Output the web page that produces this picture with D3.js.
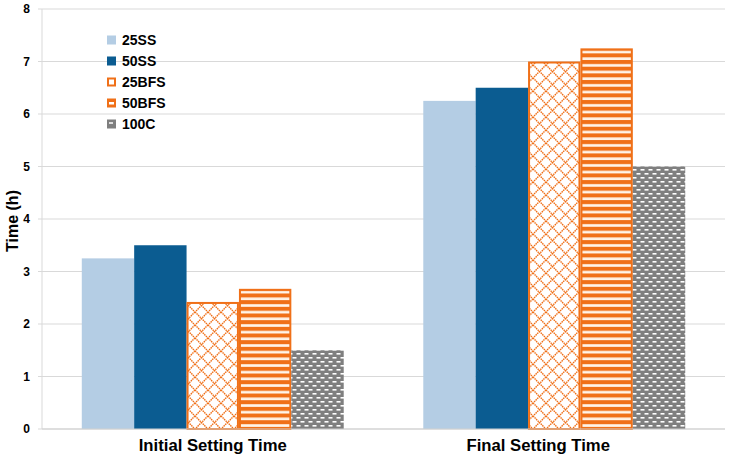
<!DOCTYPE html>
<html><head><meta charset="utf-8">
<script src="https://cdn.jsdelivr.net/npm/d3@7"></script>
<style>body{margin:0;background:#fff;}svg{display:block;font-family:"Liberation Sans",Arial,sans-serif;}</style>
</head><body><svg id="c" width="734" height="458"></svg>
<script>
const categories = ["Initial Setting Time", "Final Setting Time"];
const seriesNames = ["25SS", "50SS", "25BFS", "50BFS", "100C"];
const v25SS = [3.25, 6.25];
const v50SS = [3.5, 6.5];
const v25BFS = [2.42, 7.0];
const v50BFS = [2.67, 7.25];
const v100C = [1.5, 5.0];
const yTicks = [0, 1, 2, 3, 4, 5, 6, 7, 8];
const seriesValues = [v25SS, v50SS, v25BFS, v50BFS, v100C];

const svg = d3.select("#c");
const m = {l: 42, r: 9, t: 9, b: 29};
const W = 734, H = 458;
const orange = "#f07018", blue = "#0b5c91", lblue = "#b4cde4", gray = "#7f7f7f";

const defs = svg.append("defs");
// crosshatch
const p1 = defs.append("pattern").attr("id","xh").attr("patternUnits","userSpaceOnUse").attr("width",13).attr("height",13);
p1.append("rect").attr("width",13).attr("height",13).attr("fill","#fff");
p1.append("path").attr("d","M0,0L13,13M13,0L0,13M-1,12L1,14M12,-1L14,1M-1,1L1,-1M12,14L14,12").attr("stroke",orange).attr("stroke-width",1.4).attr("stroke-dasharray","1.5,0.7");
// horizontal stripes
const p2 = defs.append("pattern").attr("id","hs").attr("patternUnits","userSpaceOnUse").attr("width",8).attr("height",6.67);
p2.append("rect").attr("width",8).attr("height",6.67).attr("fill","#fff4e8");
p2.append("rect").attr("y",0).attr("width",8).attr("height",4).attr("fill",orange);
// weave
const p3 = defs.append("pattern").attr("id","wv").attr("patternUnits","userSpaceOnUse").attr("width",8).attr("height",8);
p3.append("rect").attr("width",8).attr("height",8).attr("fill",gray);
p3.append("rect").attr("x",0.5).attr("y",1).attr("width",4).attr("height",1.6).attr("fill","#fff");
p3.append("rect").attr("x",4.5).attr("y",5).attr("width",4).attr("height",1.6).attr("fill","#fff");
p3.append("rect").attr("x",-3.5).attr("y",5).attr("width",4).attr("height",1.6).attr("fill","#fff");

const fills = [lblue, blue, "url(#xh)", "url(#hs)", "url(#wv)"];
const strokes = [null, null, orange, orange, null];

const x0 = d3.scaleBand().domain(categories).range([m.l, W - m.r]).paddingInner(0.233).paddingOuter(0.1165);
const x1 = d3.scaleBand().domain(seriesNames).range([0, x0.bandwidth()]);
const y = d3.scaleLinear().domain([0, 8]).range([H - m.b, m.t]);

// grid
svg.append("g").selectAll("line").data(yTicks).join("line")
  .attr("x1", m.l - 4).attr("x2", W - m.r)
  .attr("y1", d => y(d)).attr("y2", d => y(d))
  .attr("stroke", "#d9d9d9").attr("stroke-width", 1);
svg.append("line").attr("x1", m.l).attr("x2", m.l).attr("y1", y(8)).attr("y2", y(0)).attr("stroke","#d9d9d9");

// y labels
svg.append("g").selectAll("text").data(yTicks).join("text")
  .attr("x", 30).attr("y", d => y(d)).attr("dy", "0.35em").attr("text-anchor","end")
  .attr("font-size", 12).attr("font-weight","bold").text(d => d);
svg.append("text").attr("transform", `translate(18,${(y(0)+y(8))/2 + 2}) rotate(-90)`)
  .attr("text-anchor","middle").attr("font-size",16).attr("font-weight","bold").text("Time (h)");

// bars
seriesNames.forEach((s, si) => {
  const g = svg.append("g");
  g.selectAll("rect").data(seriesValues[si]).join("rect")
    .attr("x", (d,i) => x0(categories[i]) + x1(s) + (strokes[si] ? 1 : 0))
    .attr("width", x1.bandwidth() - (strokes[si] ? 2 : 0))
    .attr("y", d => y(d) + (strokes[si] ? 1 : 0))
    .attr("height", d => y(0) - y(d) - (strokes[si] ? 1 : 0))
    .attr("fill", fills[si])
    .attr("stroke", strokes[si] || "none").attr("stroke-width", 2);
});
svg.append("line").attr("x1", m.l).attr("x2", W - m.r).attr("y1", y(0)).attr("y2", y(0)).attr("stroke","#d0d0d0");

// x labels
const labelShift = [0, -16];
svg.append("g").selectAll("text").data(categories).join("text")
  .attr("x", (d,i) => x0(d) + x0.bandwidth()/2 + labelShift[i]).attr("y", 451)
  .attr("text-anchor","middle").attr("font-size",16.7).attr("font-weight","bold").text(d => d);

// legend
const lg = svg.append("g").attr("transform","translate(107,40)");
seriesNames.forEach((s, i) => {
  const gy = i * 21;
  const r = lg.append("rect").attr("x", 0).attr("y", gy - 4.5).attr("width", 9).attr("height", 9);
  if (i === 0) r.attr("fill", lblue);
  else if (i === 1) r.attr("fill", blue);
  else if (i === 2) r.attr("x",1).attr("y",gy-3.5).attr("width",7).attr("height",7).attr("fill","#fff").attr("stroke",orange).attr("stroke-width",2);
  else if (i === 3) { r.attr("fill", orange); lg.append("rect").attr("x",2).attr("y",gy-1).attr("width",5).attr("height",2.5).attr("fill","#fff"); }
  else { r.attr("fill", gray); lg.append("rect").attr("x",2).attr("y",gy-2).attr("width",4).attr("height",2).attr("fill","#ddd"); }
  lg.append("text").attr("x", 15).attr("y", gy).attr("dy","0.36em").attr("font-size",14).attr("font-weight","bold").text(s);
});
</script></body></html>
